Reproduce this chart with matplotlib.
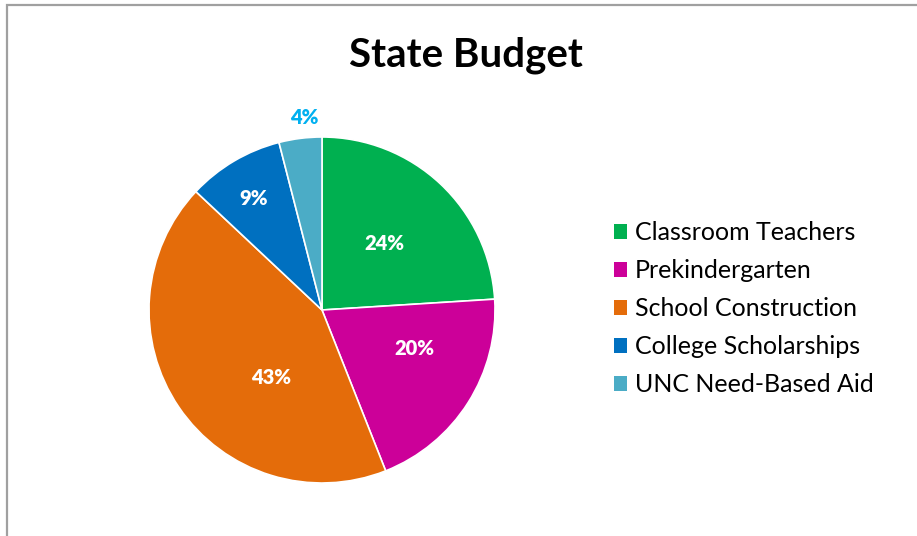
import numpy as np
import matplotlib
matplotlib.use("Agg")
import matplotlib.pyplot as plt
from matplotlib.patches import Rectangle, Patch

categories = ["Classroom Teachers", "Prekindergarten", "School Construction",
              "College Scholarships", "UNC Need-Based Aid"]
shares = [24, 20, 43, 9, 4]
colors = ["#00B050", "#CC0099", "#E46C0A", "#0070C0", "#4BACC6"]
label_colors = ["white", "white", "white", "white", "#00B0F0"]

# label placement: (extra angle in degrees, radius as fraction of pie radius)
label_shift = [0, 10, 19, 1, -2]
label_radius = [0.53, 0.58, 0.49, 0.755, 1.12]

W, H = 917, 536
fig = plt.figure(figsize=(W / 100, H / 100), dpi=100)
plt.rcParams["font.family"] = ["Lato", "DejaVu Sans"]

# chart frame
fig.patches.append(Rectangle((7 / W, -0.1), 1.2, 1 - 5 / H + 0.1,
                             transform=fig.transFigure, fill=False,
                             edgecolor="#A0A0A0", linewidth=1.6))

cx, cy, r = 322, 310, 173
ax = fig.add_axes([(cx - r) / W, (H - cy - r) / H, 2 * r / W, 2 * r / H])
wedges, _ = ax.pie(shares, colors=colors, startangle=90, counterclock=False,
                   radius=1, wedgeprops=dict(edgecolor="white", linewidth=1.2))
ax.set_xlim(-1, 1)
ax.set_ylim(-1, 1)
ax.set_aspect("equal")
ax.axis("off")

total = sum(shares)
start = 90.0
for v, c, dtheta, rr in zip(shares, label_colors, label_shift, label_radius):
    sweep = 360.0 * v / total
    mid = np.deg2rad(start - sweep / 2 + dtheta)
    ax.text(rr * np.cos(mid), rr * np.sin(mid), f"{v / total * 100:.0f}%",
            ha="center", va="center", color=c, fontsize=14.5, fontweight="heavy",
            clip_on=False)
    start -= sweep

fig.text(466 / W, 1 - 55 / H, "State Budget", ha="center", va="center",
         fontsize=29, fontweight="bold", color="black")

handles = [Patch(facecolor=c, edgecolor="none") for c in colors]
fig.legend(handles, categories, loc="center left",
           bbox_to_anchor=(601 / W, 1 - 309 / H), frameon=False,
           fontsize=18, handlelength=0.53, handleheight=0.53,
           handletextpad=0.33, labelspacing=0.6, borderpad=0)

fig.savefig("out.png", dpi=100)
